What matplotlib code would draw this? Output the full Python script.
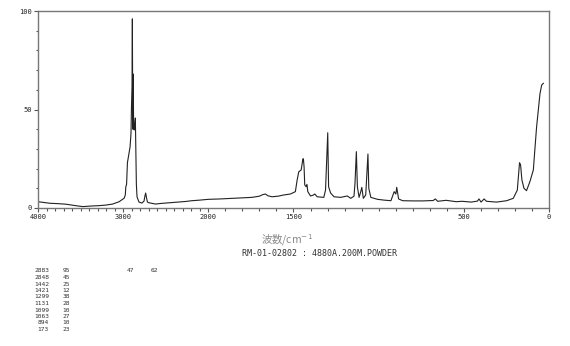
import numpy as np
import matplotlib
matplotlib.use("Agg")
import matplotlib.pyplot as plt
from matplotlib.ticker import FixedLocator, MultipleLocator

plt.rcParams['font.family'] = ['DejaVu Sans Mono', 'Noto Sans CJK JP']

# spectrum (wavenumber, intensity)
wavenumber = [4000, 3930, 3860, 3760, 3666, 3560, 3473, 3380, 3279, 3200, 3124, 3047,
              2988, 2975, 2969, 2960, 2950, 2935, 2919, 2908, 2903, 2896, 2892, 2889,
              2885, 2882, 2878, 2870, 2862, 2857, 2852, 2845, 2837, 2814, 2780, 2755,
              2745, 2736, 2725, 2715, 2700, 2620, 2560, 2500, 2427, 2350, 2270, 2194,
              2100, 2000, 1930, 1862, 1800, 1744, 1700, 1680, 1665, 1650, 1626, 1590,
              1558, 1518, 1489, 1479, 1469, 1455, 1445, 1442, 1438, 1434, 1426, 1421,
              1416, 1400, 1385, 1375, 1361, 1322, 1312, 1299, 1294, 1282, 1262, 1223,
              1184, 1164, 1145, 1139, 1131, 1125, 1115, 1105, 1099, 1090, 1076, 1068,
              1063, 1058, 1046, 1007, 968, 928, 909, 899, 894, 883, 859, 800,
              741, 680, 667, 654, 604, 545, 510, 456, 420, 411, 399, 381,
              367, 308, 249, 210, 186, 178, 173, 167, 159, 147, 132, 112,
              92, 83, 73, 63, 53, 43, 33]
intensity = [3.2, 2.8, 2.4, 2.2, 1.9, 1.2, 0.7, 1.0, 1.2, 1.5, 2.0, 3.2,
             5.0, 6.6, 10.7, 12, 23, 27, 31, 38, 50, 62, 96, 60,
             40, 68, 45, 39.6, 42, 45.7, 30, 12, 5.6, 3.0, 2.5, 3.5,
             6, 7.6, 5, 3, 2.7, 2.0, 2.3, 2.5, 2.7, 3.0, 3.3, 3.7,
             4.0, 4.4, 4.6, 4.9, 5.2, 5.4, 6.0, 6.8, 7.1, 6.2, 5.7, 6.0,
             6.6, 7.1, 8.3, 14, 18.4, 19.3, 24.9, 25, 21, 11.7, 10.8, 12,
             8.3, 6.1, 6.5, 7.1, 5.7, 5.4, 9.1, 38.2, 10.8, 7.6, 5.7, 5.4,
             6.1, 4.9, 6.0, 12.5, 28.6, 10.8, 5.4, 8.3, 10.5, 4.9, 6.6, 20,
             27.4, 10, 5.4, 4.4, 4.0, 3.7, 8.3, 7.1, 10.5, 4.6, 3.7, 3.6,
             3.6, 3.8, 4.6, 3.4, 3.9, 3.2, 3.4, 3.0, 3.5, 4.6, 3.0, 4.6,
             3.4, 3.0, 3.7, 4.9, 9.1, 18, 23, 22, 14.2, 10.0, 8.8, 13.4,
             19.3, 29.4, 41, 49.7, 58, 62.4, 63.3]

# peak table printed under the chart
peak_pos = ["2883", "2848", "1442", "1421", "1299", "1131", "1099", "1063", "894", "173"]
peak_int = ["95", "45", "25", "12", "38", "28", "10", "27", "10", "23"]
extra = ["47", "62"]

x_major = [4000, 3000, 2000, 1500, 500, 0]


# scale doubles below 2000 cm-1
def fwd(x):
    x = np.asarray(x, dtype=float)
    return np.where(x >= 2000, x, 2 * x - 2000)


def inv(u):
    u = np.asarray(u, dtype=float)
    return np.where(u >= 2000, u, (u + 2000) / 2)


W, H = 570, 346
fig = plt.figure(figsize=(W / 100, H / 100), dpi=100)
ax = fig.add_axes([38 / W, 1 - 208 / H, 511 / W, 197 / H])

ax.plot(wavenumber, intensity, color="#222222", lw=0.8)

ax.set_xscale("function", functions=(fwd, inv))
ax.set_xlim(4000, 0)
ax.set_ylim(0, 100)

ax.xaxis.set_major_locator(FixedLocator(x_major))
ax.xaxis.set_minor_locator(FixedLocator(list(range(0, 4001, 100))))
ax.set_xticklabels([str(v) for v in x_major])
ax.yaxis.set_major_locator(FixedLocator([0, 50, 100]))
ax.yaxis.set_minor_locator(MultipleLocator(10))

ax.tick_params(which="both", direction="out", colors="#555555", labelsize=5,
               labelcolor="#222222", width=0.8, pad=1.5)
ax.tick_params(which="major", length=3)
ax.tick_params(which="minor", length=1.8)
for s in ax.spines.values():
    s.set_color("#777777")
    s.set_linewidth(1.0)

# axis caption and sample line
fig.text(287 / W, 1 - 240 / H, "波数/cm$^{-1}$", ha="center", va="center",
         fontsize=7.5, color="#888888", family=["Noto Sans CJK JP", "DejaVu Sans"])
fig.text(242 / W, 1 - 254 / H, "RM-01-02802 : 4880A.200M.POWDER", ha="left",
         va="center", fontsize=6, color="#333333")

# peak list
for i in range(len(peak_pos)):
    yy = 1 - (271 + i * 6.5) / H
    fig.text(49 / W, yy, peak_pos[i], ha="right", va="center", fontsize=4.5, color="#333333")
    fig.text(70 / W, yy, peak_int[i], ha="right", va="center", fontsize=4.5, color="#333333")
fig.text(134 / W, 1 - 271 / H, extra[0], ha="right", va="center", fontsize=4.5, color="#333333")
fig.text(158 / W, 1 - 271 / H, extra[1], ha="right", va="center", fontsize=4.5, color="#333333")

plt.savefig("out.png", dpi=100)
